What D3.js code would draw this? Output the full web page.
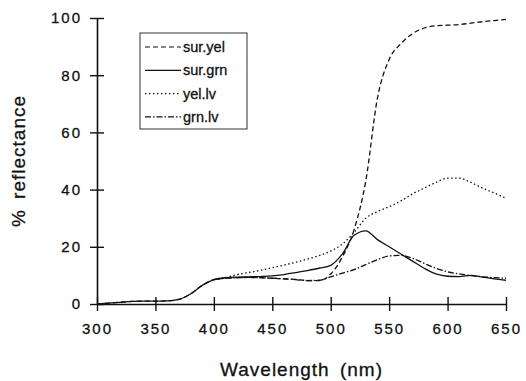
<!DOCTYPE html>
<html>
<head>
<meta charset="utf-8">
<script src="https://cdn.jsdelivr.net/npm/d3@7"></script>
<style>
  body { margin: 0; background: #fff; }
  text { font-family: "Liberation Sans", Arial, sans-serif; fill: #111; stroke: #111; stroke-width: 0.3px; }
</style>
</head>
<body>
<div class="graph"></div>
<script>
// wavelengths (nm), sampled every 10 nm
const wavelengths = [300, 310, 320, 330, 340, 350, 360, 370, 380, 390,
    400, 410, 420, 430, 440, 450, 460, 470, 480, 490,
    500, 510, 520, 530, 540, 550, 560, 570, 580, 590,
    600, 610, 620, 630, 640, 650];

// % reflectance per series (null = not measured)
const surYel = [0, 0.3, 0.6, 0.9, 1, 1, 1.1, 1.6, 3.5, 6.5,
    8.5, 9, 9.2, 9.3, 9.2, 9, 8.8, 8.6, 8.2, 8.2,
    10.5, 16.5, 26, 43, 72, 85.5, 91, 94.5, 96.5, 97.3,
    97.5, 97.7, 98.2, 98.7, 99.1, 99.5];
const surGrn = [0, 0.3, 0.6, 0.9, 1, 1, 1.1, 1.6, 3.5, 6.5,
    8.5, 9.2, 9.4, 9.5, 9.6, 9.8, 10.3, 11, 11.7, 12.5,
    13.5, 17.5, 24, 25.6, 22.5, 20, 17.5, 15, 12.5, 10.5,
    9.7, 9.6, 10, 9.4, 8.8, 8.3];
const yelLv = [null, null, null, null, null, null, null, null, null, null,
    8.5, 9.2, 10.3, 11, 11.8, 12.7, 13.6, 14.6, 15.7, 16.9,
    18.5, 21, 25, 30, 32.3, 34, 36, 38.5, 40.5, 42.5,
    44, 44, 42.5, 40.5, 38.8, 37];
const grnLv = [null, null, null, null, null, null, null, null, null, null,
    8.5, 9, 9.2, 9.3, 9.2, 9, 8.8, 8.5, 8.2, 8.3,
    9.5, 10.8, 12, 13.8, 15.5, 16.8, 17, 16, 14.2, 12.5,
    11.3, 10.5, 9.9, 9.5, 9.2, 9];

const seriesNames = ["sur.yel", "sur.grn", "yel.lv", "grn.lv"];
const seriesValues = [surYel, surGrn, yelLv, grnLv];
const dashes = ["5,3", null, "1.5,2.5", "6,2,1.5,2"];

const xTicks = [300, 350, 400, 450, 500, 550, 600, 650];
const yTicks = [0, 20, 40, 60, 80, 100];

const w = 526;
const h = 381;
const margin = { left: 97, right: 20, top: 18, bottom: 77 };

const svg = d3.select(".graph")
    .append("svg")
    .attr("width", w)
    .attr("height", h);

const xScale = d3.scaleLinear()
    .domain([300, 650])
    .range([margin.left, w - margin.right]);

const yScale = d3.scaleLinear()
    .domain([0, 100])
    .range([h - margin.bottom, margin.top]);

// axes with ticks crossing the axis line
const xAxis = d3.axisBottom(xScale)
    .tickValues(xTicks)
    .tickSizeInner(7)
    .tickSizeOuter(0)
    .tickPadding(12);

const yAxis = d3.axisLeft(yScale)
    .tickValues(yTicks)
    .tickSizeInner(7)
    .tickSizeOuter(0)
    .tickPadding(8);

const xAxisGroup = svg.append("g")
    .attr("transform", `translate(0,${yScale(0)})`)
    .call(xAxis);

const yAxisGroup = svg.append("g")
    .attr("transform", `translate(${xScale(300)},0)`)
    .call(yAxis);

[xAxisGroup, yAxisGroup].forEach(g => {
    g.select(".domain").attr("stroke", "#111").attr("stroke-width", 1.6);
    g.selectAll(".tick line").attr("stroke", "#111").attr("stroke-width", 1.4);
    g.selectAll(".tick text")
        .attr("font-size", "15px")
        .attr("letter-spacing", "2px")
        .attr("fill", "#111")
        .style("font-family", "'Liberation Sans', Arial, sans-serif");
});
xAxisGroup.selectAll(".tick line").attr("y1", -7);
yAxisGroup.selectAll(".tick line").attr("x1", 7).attr("x2", -7);

// axis titles
svg.append("text")
    .text("Wavelength (nm)")
    .attr("x", (xScale(300) + xScale(650)) / 2)
    .attr("y", 376)
    .attr("text-anchor", "middle")
    .attr("font-size", "19px")
    .attr("letter-spacing", "1px")
    .attr("word-spacing", "4px");

svg.append("text")
    .text("% reflectance")
    .attr("transform", `translate(25,${161}) rotate(-90)`)
    .attr("text-anchor", "middle")
    .attr("font-size", "19px")
    .attr("letter-spacing", "1px")
    .attr("word-spacing", "4px");

// series lines
const line = d3.line()
    .defined(d => d.v !== null)
    .x(d => xScale(d.x))
    .y(d => yScale(d.v))
    .curve(d3.curveMonotoneX);

seriesValues.forEach((vals, i) => {
    const pts = wavelengths.map((x, j) => ({ x: x, v: vals[j] }));
    svg.append("path")
        .datum(pts)
        .attr("fill", "none")
        .attr("stroke", "#111")
        .attr("stroke-width", 1.3)
        .attr("stroke-dasharray", dashes[i])
        .attr("d", line);
});

// legend
const legend = svg.append("g").attr("transform", "translate(140,33)");
legend.append("rect")
    .attr("width", 107)
    .attr("height", 96)
    .attr("fill", "#fff")
    .attr("stroke", "#333")
    .attr("stroke-width", 1);

seriesNames.forEach((name, i) => {
    const y = 14 + i * 23.3;
    legend.append("line")
        .attr("x1", 5)
        .attr("x2", 41)
        .attr("y1", y)
        .attr("y2", y)
        .attr("stroke", "#111")
        .attr("stroke-width", 1.2)
        .attr("stroke-dasharray", dashes[i]);
    legend.append("text")
        .text(name)
        .attr("x", 43)
        .attr("y", y + 5)
        .attr("font-size", "14.5px");
});
</script>
</body>
</html>
